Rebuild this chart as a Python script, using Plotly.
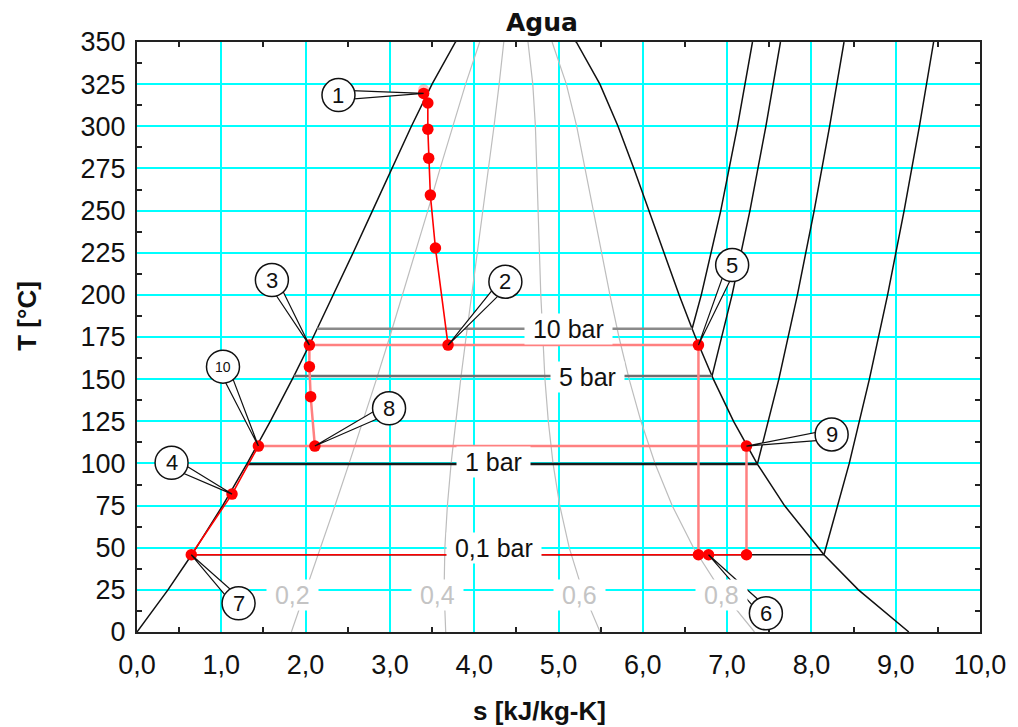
import math
import plotly.graph_objects as go

# ---------------- data ----------------
# saturation dome (water), liquid branch then vapour branch
dome_liq_T = [0.01, 25, 45.81, 50, 75, 99.61, 100, 125, 150, 151.83, 175, 179.88, 200, 225, 250, 275, 300, 325, 350, 373.95]
dome_liq_s = [0.000, 0.367, 0.649, 0.704, 1.016, 1.303, 1.307, 1.581, 1.842, 1.861, 2.091, 2.138, 2.331, 2.564, 2.794, 3.022, 3.255, 3.500, 3.778, 4.407]
dome_vap_T = [373.95, 350, 325, 300, 275, 250, 225, 200, 179.88, 175, 151.83, 150, 125, 100, 99.61, 75, 50, 45.81, 25, 0.01]
dome_vap_s = [4.407, 5.211, 5.491, 5.706, 5.894, 6.072, 6.248, 6.430, 6.585, 6.624, 6.821, 6.837, 7.077, 7.354, 7.359, 7.681, 8.075, 8.149, 8.558, 9.156]

# quality lines
q_T = [0, 25, 50, 75, 100, 125, 150, 175, 200, 225, 250, 275, 300, 325, 350]
q02_s = [1.831, 2.005, 2.178, 2.349, 2.516, 2.680, 2.841, 2.998, 3.151, 3.301, 3.450, 3.596, 3.745, 3.898, 4.065]
q04_s = [3.662, 3.643, 3.652, 3.682, 3.726, 3.779, 3.840, 3.904, 3.971, 4.038, 4.105, 4.171, 4.235, 4.296, 4.351]
q06_s = [5.494, 5.282, 5.127, 5.015, 4.935, 4.879, 4.839, 4.811, 4.790, 4.774, 4.761, 4.745, 4.726, 4.695, 4.638]
q08_s = [7.325, 6.920, 6.601, 6.348, 6.145, 5.978, 5.838, 5.717, 5.610, 5.511, 5.416, 5.320, 5.216, 5.093, 4.924]
q_labels = ["0,2", "0,4", "0,6", "0,8"]
q_label_s = [1.84, 3.56, 5.25, 6.93]
q_label_T = [21.9, 21.9, 21.9, 21.9]

# isobars: saturation (horizontal) parts
iso_names = ["10 bar", "5 bar", "1 bar", "0,1 bar"]
iso_Tsat = [179.88, 151.83, 99.61, 45.81]
iso_sf = [2.138, 1.861, 1.303, 0.649]
iso_sg = [6.585, 6.821, 7.359, 8.149]
iso_label_s = [5.12, 5.34, 4.23, 4.24]
iso_label_T = [179.7, 151.2, 101.0, 49.8]
# superheated parts
sh10_s = [6.585, 6.694, 6.925, 7.123, 7.301]
sh10_T = [179.88, 200, 250, 300, 350]
sh5_s = [6.821, 7.059, 7.271, 7.460, 7.633]
sh5_T = [151.83, 200, 250, 300, 350]
sh1_s = [7.359, 7.614, 7.834, 8.033, 8.216, 8.387]
sh1_T = [99.61, 150, 200, 250, 300, 350]
sh01_s = [8.149, 8.449, 8.688, 8.904, 9.100, 9.281, 9.450]
sh01_T = [45.81, 100, 150, 200, 250, 300, 350]

# cycle (red) lines
turb_s = [3.40, 3.45, 3.45, 3.46, 3.48, 3.54, 3.69]
turb_T = [319.5, 313.8, 298.3, 281.1, 259.2, 227.8, 170.2]
pump_s = [0.644, 1.127, 1.44]
pump_T = [45.81, 81.8, 110.3]
cond_s = [0.644, 7.23]
cond_T = [45.81, 45.81]
# light red lines
h170_s = [2.045, 6.66]
h170_T = [170.2, 170.2]
h110_s = [1.44, 7.23]
h110_T = [110.3, 110.3]
v3_s = [2.045, 2.045, 2.06, 2.11]
v3_T = [170.2, 157.4, 139.6, 110.3]
v5_s = [6.66, 6.66]
v5_T = [170.2, 45.81]
v9_s = [7.23, 7.23]
v9_T = [110.3, 45.81]

# state points (markers)
pts_s = [3.40, 3.45, 3.45, 3.46, 3.48, 3.54, 3.69, 2.045, 6.66, 2.045, 2.06, 2.11, 1.44, 7.23, 1.127, 0.644, 6.66, 6.78, 7.23]
pts_T = [319.5, 313.8, 298.3, 281.1, 259.2, 227.8, 170.2, 170.2, 170.2, 157.4, 139.6, 110.3, 110.3, 110.3, 81.8, 45.81, 45.81, 45.81, 45.81]
ghost_s = [3.40]
ghost_T = [321.8]

# callouts: number, target point, circle centre
call_num = ["1", "2", "3", "4", "5", "6", "7", "8", "9", "10"]
call_tgt_s = [3.40, 3.69, 2.045, 1.127, 6.66, 6.78, 0.644, 2.11, 7.23, 1.44]
call_tgt_T = [319.5, 170.2, 170.2, 81.8, 170.2, 45.81, 45.81, 110.3, 110.3, 110.3]
call_c_s = [2.39, 4.37, 1.60, 0.41, 7.06, 7.46, 1.205, 2.99, 8.24, 1.02]
call_c_T = [318.5, 207.8, 208.8, 100.4, 217.7, 11.1, 17.0, 132.7, 117.2, 157.4]

x_tickvals = [0, 1, 2, 3, 4, 5, 6, 7, 8, 9, 10]
x_ticktext = ["0,0", "1,0", "2,0", "3,0", "4,0", "5,0", "6,0", "7,0", "8,0", "9,0", "10,0"]
x_minor = [0.5, 1.5, 2.5, 3.5, 4.5, 5.5, 6.5, 7.5, 8.5, 9.5]
y_tickvals = [0, 25, 50, 75, 100, 125, 150, 175, 200, 225, 250, 275, 300, 325, 350]
y_minor = [12.5, 37.5, 62.5, 87.5, 112.5, 137.5, 162.5, 187.5, 212.5, 237.5, 262.5, 287.5, 312.5, 337.5]

# ---------------- layout geometry ----------------
# the page body adds an 8px offset, so the figure is 8px smaller and shifted
OFF = 8
W, H = 1018 - OFF, 727 - OFF
ML, MT = 137 - OFF, 42 - OFF
PW, PH = 849, 590
MR, MB = W - ML - PW, H - MT - PH
XR = [0, 10]
YR = [0, 350]
sx = PW / (XR[1] - XR[0])
sy = PH / (YR[1] - YR[0])

def paper_x(px):
    return (px - OFF - ML) / PW

def paper_y(py):
    return (MT + PH - (py - OFF)) / PH

FONT = "Liberation Sans, Arial, sans-serif"
RED = "#ff0000"
PINK = "#ff8080"

fig = go.Figure()

def line(xs, ys, color, width):
    fig.add_trace(go.Scatter(x=xs, y=ys, mode="lines", line=dict(color=color, width=width),
                             hoverinfo="skip", showlegend=False))

# quality lines
for qs in (q02_s, q04_s, q06_s, q08_s):
    line(qs, q_T, "#bdbdbd", 1.2)

# dome
line(dome_liq_s + dome_vap_s, dome_liq_T + dome_vap_T, "#111111", 1.5)

# superheated isobars
for xs, ys in ((sh10_s, sh10_T), (sh5_s, sh5_T), (sh1_s, sh1_T), (sh01_s, sh01_T)):
    line(xs, ys, "#111111", 1.5)

# saturation isobars
iso_colors = ["#8a8a8a", "#6e6e6e", "#1a1a1a", "#111111"]
iso_widths = [2.5, 2.5, 2.5, 1.5]
for i in range(4):
    line([iso_sf[i], iso_sg[i]], [iso_Tsat[i], iso_Tsat[i]], iso_colors[i], iso_widths[i])

# light red lines
for xs, ys in ((h170_s, h170_T), (h110_s, h110_T), (v3_s, v3_T), (v5_s, v5_T), (v9_s, v9_T)):
    line(xs, ys, PINK, 2.5)

# red lines
for xs, ys in ((turb_s, turb_T), (pump_s, pump_T), (cond_s, cond_T)):
    line(xs, ys, RED, 1.6)

# markers
fig.add_trace(go.Scatter(x=ghost_s, y=ghost_T, mode="markers",
                         marker=dict(color=RED, size=11, opacity=0.25), hoverinfo="skip", showlegend=False))
fig.add_trace(go.Scatter(x=pts_s, y=pts_T, mode="markers",
                         marker=dict(color=RED, size=11.5), hoverinfo="skip", showlegend=False))

# callouts
shapes = []
annotations = []
R = 16.5
HW = 5
for i, num in enumerate(call_num):
    cx, cy = call_c_s[i] * sx, call_c_T[i] * sy
    tx, ty = call_tgt_s[i] * sx, call_tgt_T[i] * sy
    dx, dy = tx - cx, ty - cy
    L = math.hypot(dx, dy)
    nx, ny = -dy / L * HW, dx / L * HW
    p1 = ((cx + nx) / sx, (cy + ny) / sy)
    p2 = ((cx - nx) / sx, (cy - ny) / sy)
    path = "M {:.4f},{:.4f} L {:.4f},{:.4f} L {:.4f},{:.4f} Z".format(
        p1[0], p1[1], call_tgt_s[i], call_tgt_T[i], p2[0], p2[1])
    shapes.append(dict(type="path", path=path, xref="x", yref="y", layer="above",
                       fillcolor="white", line=dict(color="#111111", width=1.2)))
    shapes.append(dict(type="circle", xref="x", yref="y", xsizemode="pixel", ysizemode="pixel",
                       xanchor=call_c_s[i], yanchor=call_c_T[i], x0=-R, x1=R, y0=-R, y1=R,
                       layer="above", fillcolor="white", line=dict(color="#111111", width=1.5)))
    annotations.append(dict(x=call_c_s[i], y=call_c_T[i], xref="x", yref="y", text=num,
                            xanchor="center", yanchor="middle",
                            showarrow=False, font=dict(family=FONT, size=22 if len(num) == 1 else 14, color="#111111")))

# isobar labels
for i in range(4):
    annotations.append(dict(x=iso_label_s[i], y=iso_label_T[i], xref="x", yref="y",
                            xanchor="center", yanchor="middle",
                            text="\u00a0" + iso_names[i] + "\u00a0", showarrow=False, bgcolor="white", borderpad=1,
                            font=dict(family=FONT, size=25, color="#111111")))
# quality labels
for i in range(4):
    annotations.append(dict(x=q_label_s[i], y=q_label_T[i], xref="x", yref="y",
                            xanchor="center", yanchor="middle",
                            text="\u00a0" + q_labels[i] + "\u00a0", showarrow=False, bgcolor="white", borderpad=1,
                            font=dict(family=FONT, size=25, color="#c4c4c4")))

# titles
annotations.append(dict(x=paper_x(545), y=paper_y(23), xref="paper", yref="paper", text="Agua",
                        xanchor="center", yanchor="middle",
                        showarrow=False, font=dict(family="DejaVu Sans", size=25, color="#111111", weight="bold")))
annotations.append(dict(x=paper_x(542), y=paper_y(711), xref="paper", yref="paper", text="s [kJ/kg-K]",
                        xanchor="center", yanchor="middle",
                        showarrow=False, font=dict(family=FONT, size=26, color="#111111", weight="bold")))
annotations.append(dict(x=paper_x(26), y=paper_y(316), xref="paper", yref="paper", text="T [°C]",
                        xanchor="center", yanchor="middle",
                        textangle=-90, showarrow=False, font=dict(family=FONT, size=26, color="#111111", weight="bold")))

axis_common = dict(showgrid=True, gridcolor="#00ffff", gridwidth=2, zeroline=False,
                   showline=True, linecolor="#222222", linewidth=2, mirror="ticks",
                   ticks="", tickfont=dict(family=FONT, size=27, color="#111111"))

fig.update_layout(
    width=W, height=H,
    margin=dict(l=ML, r=MR, t=MT, b=MB),
    paper_bgcolor="white", plot_bgcolor="white",
    showlegend=False,
    xaxis=dict(range=XR, tickmode="array", tickvals=x_tickvals, ticktext=x_ticktext,
               minor=dict(tickmode="array", tickvals=x_minor, ticks="inside", ticklen=5, tickwidth=2,
                          tickcolor="#222222", showgrid=False), ticklabelstandoff=8, **axis_common),
    yaxis=dict(range=YR, tickmode="array", tickvals=y_tickvals, ticktext=[str(v) for v in y_tickvals],
               minor=dict(tickmode="array", tickvals=y_minor, ticks="inside", ticklen=5, tickwidth=2,
                          tickcolor="#222222", showgrid=False), ticklabelstandoff=4, **axis_common),
    shapes=shapes,
    annotations=annotations,
)

fig.write_html("out.html")
